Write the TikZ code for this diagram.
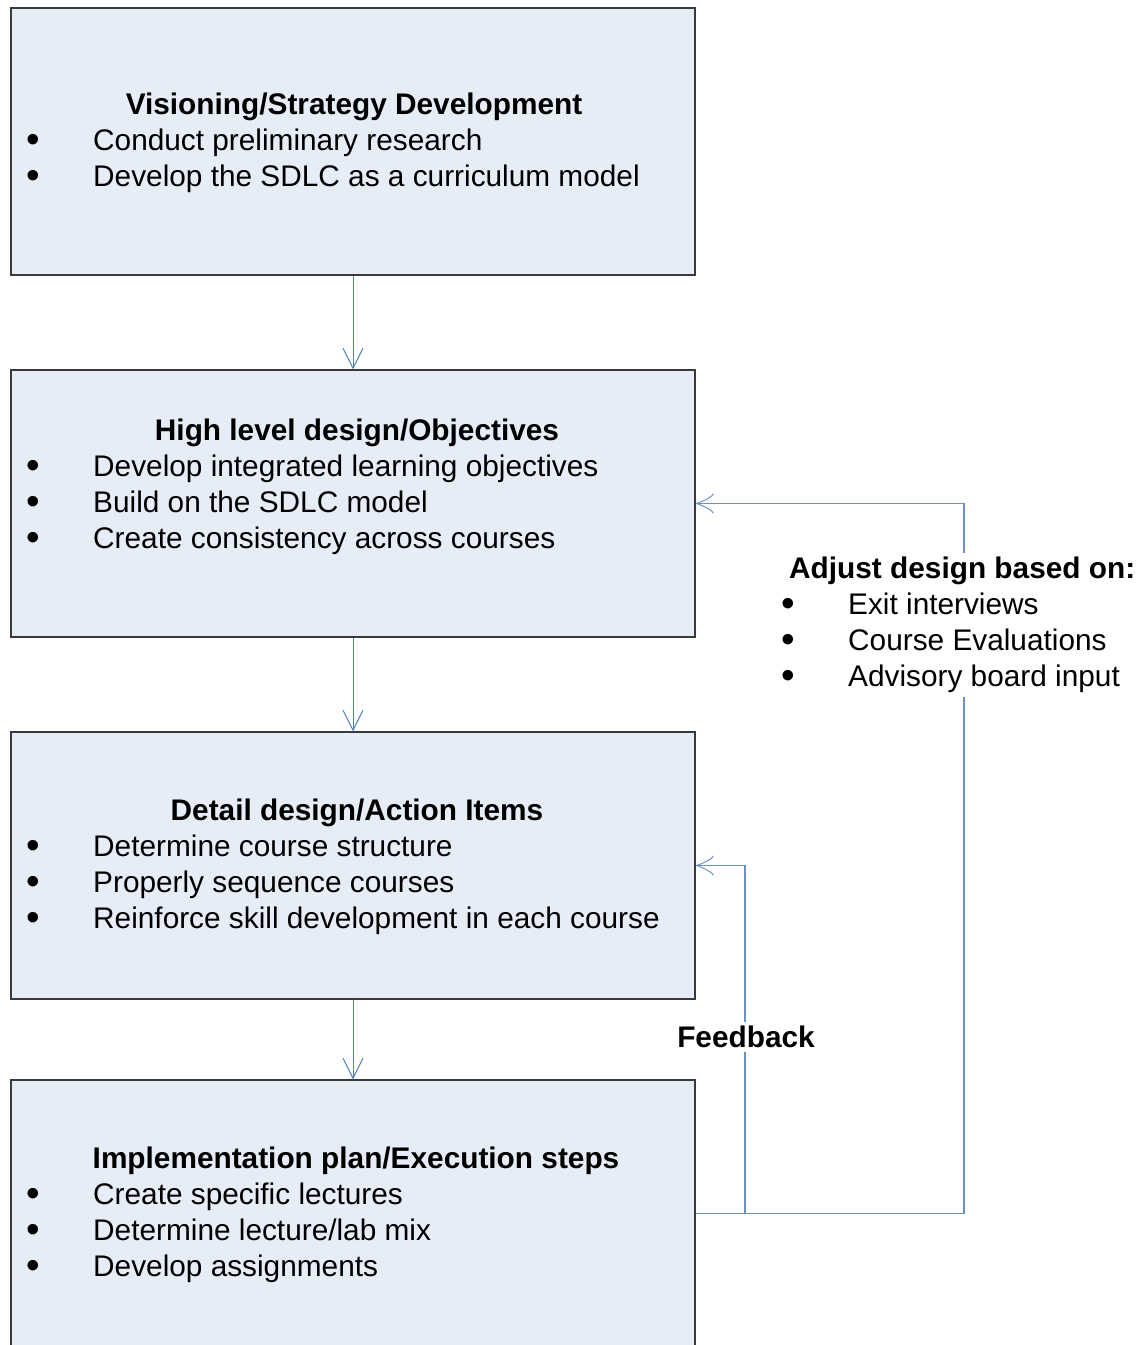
\documentclass[tikz,border=0pt]{standalone}
\usepackage{fontspec}
\setmainfont{Liberation Sans}
\usetikzlibrary{arrows.meta,positioning}
\definecolor{boxfill}{HTML}{E6EDF7}
\definecolor{boxline}{HTML}{3A3A3A}
\definecolor{flowblue}{HTML}{4F81BD}
\definecolor{fbblue}{HTML}{6A90C8}
\newcommand{\boxfont}{\fontsize{29.8}{36}\selectfont}
\newcommand{\bigdot}{\raisebox{-2.5pt}{\scalebox{1.3}{\textbullet}}}
\tikzstyle{stage}=[rectangle,draw=boxline,fill=boxfill,line width=1.2pt,minimum width=684pt,minimum height=267pt,inner sep=0pt]
\tikzstyle{title}=[anchor=base,inner sep=0pt,font=\boxfont\bfseries]
\tikzstyle{item}=[anchor=base west,inner sep=0pt,font=\boxfont]
\tikzstyle{dot}=[anchor=base,inner sep=0pt,font=\boxfont]

\begin{document}
\begin{tikzpicture}[x=1pt,y=-1pt]
\tikzset{flow/.style={draw=flowblue,line width=1pt,-{Straight Barb[length=20pt,width=20pt]}},
fb/.style={draw=fbblue,line width=1.2pt}}
\useasboundingbox (0,0) rectangle (1139,1345);

\node (vision) at (353,141.5)  [stage] {};
\node (hld)    at (353,503.5)  [stage] {};
\node (detail) at (353,865.5)  [stage] {};
\node (impl)   at (353,1213.5) [stage] {};

% stage texts
\node (vision title) at (354,114) [title] {Visioning/Strategy Development};
\foreach \txt [count=\i] in {Conduct preliminary research,Develop the SDLC as a curriculum model}{
  \node (vision dot \i) at (33,114+36*\i) [dot] {\bigdot};
  \node (vision item \i) at (93,114+36*\i) [item] {\txt};
}
\node (hld title) at (357,440) [title] {High level design/Objectives};
\foreach \txt [count=\i] in {Develop integrated learning objectives,Build on the SDLC model,Create consistency across courses}{
  \node (hld dot \i) at (33,440+36*\i) [dot] {\bigdot};
  \node (hld item \i) at (93,440+36*\i) [item] {\txt};
}
\node (detail title) at (357,820) [title] {Detail design/Action Items};
\foreach \txt [count=\i] in {Determine course structure,Properly sequence courses,Reinforce skill development in each course}{
  \node (detail dot \i) at (33,820+36*\i) [dot] {\bigdot};
  \node (detail item \i) at (93,820+36*\i) [item] {\txt};
}
\node (impl title) at (356,1168) [title] {Implementation plan/Execution steps};
\foreach \txt [count=\i] in {Create specific lectures,Determine lecture/lab mix,Develop assignments}{
  \node (impl dot \i) at (33,1168+36*\i) [dot] {\bigdot};
  \node (impl item \i) at (93,1168+36*\i) [item] {\txt};
}

% main flow
\draw[flow] (vision) -- (hld);
\draw[flow] (hld) -- (detail);
\draw[flow] (detail) -- (impl);

% feedback loops
\coordinate (fb turn) at (745,865.5);
\coordinate (adj turn) at (964,503.5);
\draw[fb,-{Classical TikZ Rightarrow[length=18pt,width=20pt]}] (impl.east) -| (fb turn) -- (detail.east);
\draw[fb,-{Classical TikZ Rightarrow[length=18pt,width=20pt]}] (impl.east) -| (adj turn) -- (hld.east);

\node (feedback) at (746,1037) [fill=white,inner xsep=2pt,inner ysep=4pt,font=\boxfont\bfseries] {Feedback};
\node (adjust) at (789,553) [anchor=north west,fill=white,inner sep=0pt,font=\boxfont] {%
  \begin{tabular}{@{}p{59pt}@{}l@{}}
  \multicolumn{2}{@{}l@{}}{\bfseries Adjust design based on:}\\
  \hspace*{-8pt}\bigdot & Exit interviews\\
  \hspace*{-8pt}\bigdot & Course Evaluations\\
  \hspace*{-8pt}\bigdot & Advisory board input
  \end{tabular}};
\end{tikzpicture}
\end{document}
